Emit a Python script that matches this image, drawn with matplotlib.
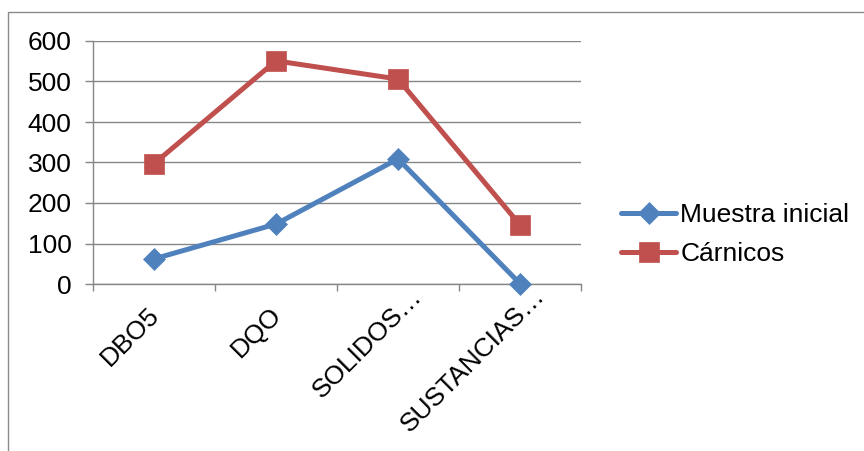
import math
import matplotlib
matplotlib.use("Agg")
import matplotlib.pyplot as plt
import matplotlib.transforms as mtransforms
from matplotlib.patches import Rectangle

# Parameters measured per sample
categories = ["DBO5", "DQO", "SOLIDOS…", "SUSTANCIAS…"]
muestra_inicial = [62, 148, 309, 1]
carnicos = [297, 551, 506, 146]
yticks = [0, 100, 200, 300, 400, 500, 600]

BLUE = "#4F81BD"
RED = "#C0504D"
GRID = "#868686"

plt.rcParams["font.family"] = ["Liberation Sans", "DejaVu Sans"]
FS = 19

W, H = 864, 451
fig = plt.figure(figsize=(W / 100, H / 100), dpi=100)
ax = fig.add_axes([93 / W, 1 - 284 / H, (581 - 93) / W, (284 - 41) / H])

x = list(range(len(categories)))
ax.plot(x, muestra_inicial, color=BLUE, lw=3.6, marker="D", ms=11.2,
        mec=BLUE, mew=0.5, label="Muestra inicial", solid_capstyle="round",
        solid_joinstyle="round", zorder=3, clip_on=False)
ax.plot(x, carnicos, color=RED, lw=3.6, marker="s", ms=14.2,
        mec=RED, mew=0.5, label="Cárnicos", solid_capstyle="round",
        solid_joinstyle="round", zorder=3, clip_on=False)

ax.set_xlim(-0.5, len(categories) - 0.5)
ax.set_ylim(0, 600)
ax.set_yticks(yticks)
ax.set_yticklabels([str(v) for v in yticks], fontsize=FS)
ax.yaxis.grid(True, color=GRID, lw=1.0)
ax.set_axisbelow(True)

# category boundaries carry the tick marks
ax.set_xticks([i - 0.5 for i in range(len(categories) + 1)], minor=False)
ax.set_xticklabels([])
ax.set_xticks(x, minor=True)
ax.set_xticklabels(categories, minor=True, fontsize=FS, rotation=45,
                   ha="right", va="center", rotation_mode="anchor")
ax.tick_params(axis="x", which="major", length=5, width=1.0, color=GRID)
ax.tick_params(axis="x", which="minor", length=0, pad=19.5)
ax.tick_params(axis="y", length=5.5, width=1.0, color=GRID, pad=10)

# truncated labels keep the word end at the category centre; the ellipsis
# hangs past it along the text direction
ell = FS / 72 * 1.0  # ellipsis advance in inches (1 em)
c45 = math.cos(math.radians(45))
for lbl in ax.get_xticklabels(minor=True):
    dx, dy = 2 / 100, 0.0
    if lbl.get_text().endswith("…"):
        dx += ell * c45
        dy += ell * c45
    lbl.set_transform(lbl.get_transform() +
                      mtransforms.ScaledTranslation(dx, dy, fig.dpi_scale_trans))

for side in ("top", "right"):
    ax.spines[side].set_visible(False)
for side in ("left", "bottom"):
    ax.spines[side].set_color(GRID)
    ax.spines[side].set_linewidth(1.0)

leg = ax.legend(loc="center left", bbox_to_anchor=(621 / W, 1 - 234.5 / H),
                bbox_transform=fig.transFigure, frameon=False, fontsize=FS,
                handlelength=2.1, handletextpad=0.15, borderpad=0,
                borderaxespad=0, labelspacing=0.55)

# outer chart frame
fig.add_artist(Rectangle((8 / W, -0.2), 1.5, 1.2 - 12 / H,
                         transform=fig.transFigure, fill=False,
                         ec="#8A8A8A", lw=1.0))

fig.savefig("out.png", dpi=100)
